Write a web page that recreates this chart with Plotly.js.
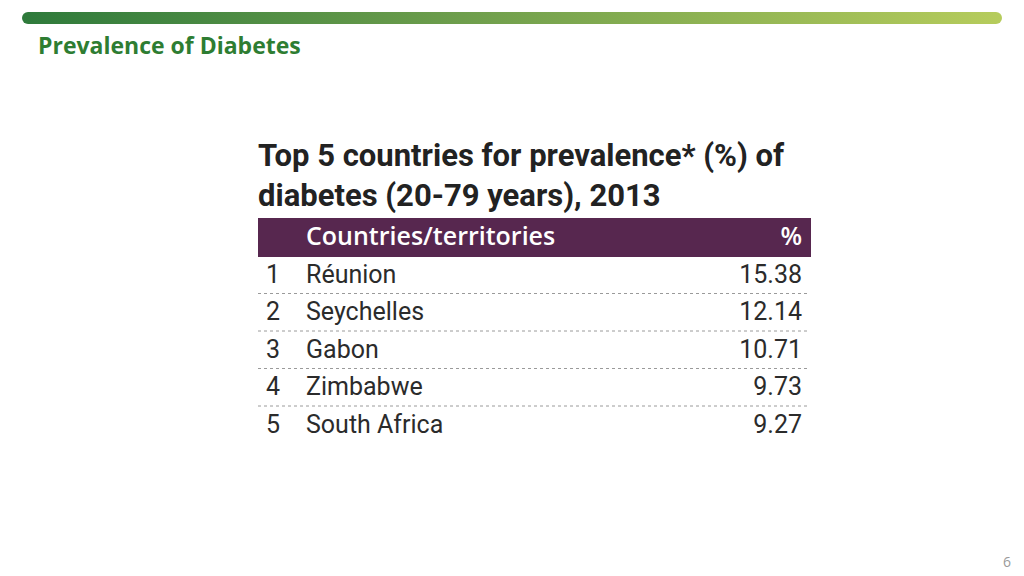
<!DOCTYPE html>
<html>
<head>
<meta charset="utf-8">
<script src="https://cdn.plot.ly/plotly-3.0.1.min.js"></script>
<style>html,body{margin:0;padding:0;background:#fff;}#chart{width:1024px;height:576px;}</style>
</head>
<body>
<div id="chart"></div>
<script>
// ---- data ----
const headerLabels = ['', 'Countries/territories', '%'];
const ranks = ['1', '2', '3', '4', '5'];
const countries = ['Réunion', 'Seychelles', 'Gabon', 'Zimbabwe', 'South Africa'];
const prevalence = [15.38, 12.14, 10.71, 9.73, 9.27];
const pageTitle = 'Prevalence of Diabetes';
const tableTitle = 'Top 5 countries for prevalence* (%) of<br>diabetes (20-79 years), 2013';
const pageNumber = '6';

// ---- geometry / style ----
const W = 1024, H = 576;
const tblLeft = 258, tblRight = 810, tblTop = 218;
const headH = 38, rowH = 37.5;
const tblBottom = tblTop + headH + rowH * countries.length + 4;
const px = v => v / W, py = v => 1 - v / H;
const textFont = 'Roboto, "DejaVu Sans", sans-serif';

const trace = {
  type: 'table',
  domain: {x: [px(tblLeft), px(tblRight)], y: [py(tblBottom), py(tblTop)]},
  columnwidth: [40, 352, 160],
  header: {
    values: headerLabels,
    align: ['left', 'left', 'right'],
    height: headH,
    fill: {color: '#57274F'},
    line: {color: '#57274F', width: 1},
    font: {family: '"Open Sans", sans-serif', size: 25, color: '#ffffff', weight: 600}
  },
  cells: {
    values: [ranks, countries, prevalence],
    format: ['', '', '.2f'],
    align: ['left', 'left', 'right'],
    height: rowH,
    fill: {color: '#ffffff'},
    line: {color: '#ffffff', width: 0},
    font: {family: textFont, size: 25, color: '#2b2b2b'}
  }
};

const shapes = [];
for (let i = 1; i < countries.length; i++) {
  const y = tblTop + headH + i * rowH;
  shapes.push({type: 'line', xref: 'paper', yref: 'paper',
    x0: px(tblLeft), x1: px(tblRight), y0: py(y), y1: py(y),
    line: {color: '#9a9a9a', width: 1, dash: 'dot'}});
}

const barSvg = '<svg xmlns="http://www.w3.org/2000/svg" width="980" height="12" viewBox="0 0 980 12">' +
  '<defs><linearGradient id="g" x1="0" x2="1" y1="0" y2="0">' +
  '<stop offset="0" stop-color="#2E7A3B"/><stop offset="0.45" stop-color="#6E9E4C"/>' +
  '<stop offset="1" stop-color="#B6CC5C"/></linearGradient></defs>' +
  '<rect x="0" y="0" width="980" height="12" rx="6" ry="6" fill="url(#g)"/></svg>';

const layout = {
  width: W, height: H,
  margin: {l: 0, r: 0, t: 0, b: 0},
  paper_bgcolor: '#ffffff', plot_bgcolor: '#ffffff',
  showlegend: false,
  title: {
    text: '<b>' + tableTitle + '</b>',
    xref: 'paper', yref: 'paper', x: px(tblLeft), xanchor: 'left',
    y: py(166), yanchor: 'top',
    font: {family: textFont, size: 31, color: '#222222'}
  },
  images: [{
    source: 'data:image/svg+xml;charset=utf-8,' + encodeURIComponent(barSvg),
    xref: 'paper', yref: 'paper', x: px(22), y: py(12),
    sizex: 980 / W, sizey: 12 / H, sizing: 'stretch',
    xanchor: 'left', yanchor: 'top', layer: 'above'
  }],
  annotations: [
    {text: '<b>' + pageTitle + '</b>', xref: 'paper', yref: 'paper',
     x: px(36), y: py(45), xanchor: 'left', yanchor: 'middle', showarrow: false,
     font: {family: '"Open Sans", sans-serif', size: 23, color: '#2E7D32'}},
    {text: pageNumber, xref: 'paper', yref: 'paper',
     x: px(1013), y: py(561), xanchor: 'right', yanchor: 'middle', showarrow: false,
     font: {family: '"Open Sans", sans-serif', size: 14, color: '#9a9a9a'}}
  ],
  shapes: shapes
};

Plotly.newPlot('chart', [trace], layout, {displayModeBar: false, staticPlot: true});
</script>
</body>
</html>
